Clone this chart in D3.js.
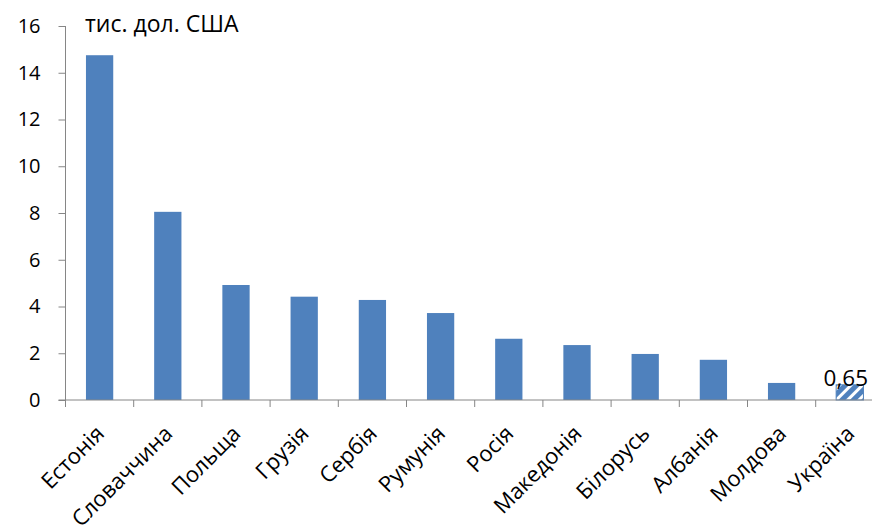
<!DOCTYPE html>
<html>
<head>
<meta charset="utf-8">
<script src="https://cdn.jsdelivr.net/npm/d3@7"></script>
<style>
  body { margin: 0; background: #fff; }
  svg { display: block; font-family: "Open Sans", sans-serif; }
</style>
</head>
<body>
<svg id="chart" width="872" height="529"></svg>
<script>
// Data
const countries = ["Естонія", "Словаччина", "Польща", "Грузія", "Сербія", "Румунія",
                   "Росія", "Македонія", "Білорусь", "Албанія", "Молдова", "Україна"];
const values = [14.75, 8.05, 4.92, 4.42, 4.28, 3.72, 2.62, 2.35, 1.97, 1.72, 0.73, 0.65];
const yTicks = [0, 2, 4, 6, 8, 10, 12, 14, 16];
const unitLabel = "тис. дол. США";
const highlight = "Україна";

const svg = d3.select("#chart");
const margin = { left: 65.5, top: 26, bottom: 129 };
const height = 529 - margin.top - margin.bottom;
const bandWidth = 68.2;
const plotWidth = bandWidth * countries.length;

const axisColor = "#868686";
const barColor = "#4F81BD";

// Hatch pattern for the highlighted bar
const defs = svg.append("defs");
const pat = defs.append("pattern")
    .attr("id", "hatch")
    .attr("patternUnits", "userSpaceOnUse")
    .attr("width", 8)
    .attr("height", 8)
    .attr("patternTransform", "rotate(45)");
pat.append("rect").attr("width", 8).attr("height", 8).attr("fill", barColor);
pat.append("rect").attr("x", 0).attr("width", 3).attr("height", 8).attr("fill", "#fff");

const g = svg.append("g").attr("transform", `translate(${margin.left},${margin.top})`);

const x = d3.scaleBand()
    .domain(countries)
    .range([0, plotWidth])
    .paddingInner(0.6)
    .paddingOuter(0.3);

const y = d3.scaleLinear()
    .domain([0, 16])
    .range([height, 0]);

// Bars
g.selectAll(".bar")
    .data(countries.map((c, i) => ({ c, v: values[i] })))
    .enter()
    .append("rect")
    .attr("class", "bar")
    .attr("x", d => x(d.c))
    .attr("y", d => y(d.v))
    .attr("width", x.bandwidth())
    .attr("height", d => y(0) - y(d.v))
    .attr("fill", d => d.c === highlight ? "url(#hatch)" : barColor)
    .attr("stroke", d => d.c === highlight ? barColor : "none")
    .attr("stroke-width", 1);

// Y axis
g.append("g")
    .call(d3.axisLeft(y).tickValues(yTicks).tickSize(7).tickPadding(18))
    .call(a => a.select(".domain").attr("stroke", axisColor).attr("d", `M0,${y(16)}V${y(0)}`))
    .call(a => a.selectAll("line").attr("stroke", axisColor))
    .call(a => a.selectAll("text").attr("fill", "#000").attr("font-size", 20)
        .attr("font-family", "'Open Sans', sans-serif"));

// X axis: ticks at category boundaries
const xAxis = g.append("g").attr("transform", `translate(0,${height})`);
xAxis.append("line")
    .attr("x1", -7).attr("x2", plotWidth)
    .attr("stroke", axisColor);
xAxis.selectAll(".xtick")
    .data(d3.range(countries.length))
    .enter()
    .append("line")
    .attr("x1", i => i * x.step())
    .attr("x2", i => i * x.step())
    .attr("y1", 0).attr("y2", 7)
    .attr("stroke", axisColor);

xAxis.selectAll(".xlabel")
    .data(countries)
    .enter()
    .append("text")
    .attr("transform", d => `translate(${x(d) + x.bandwidth() / 2 + 6},${35}) rotate(-45)`)
    .attr("text-anchor", "end")
    .attr("font-size", 22)
    .attr("fill", "#000")
    .text(d => d);

// Value label on highlighted bar
const hv = values[countries.indexOf(highlight)];
g.append("text")
    .attr("x", x(highlight) + x.bandwidth() / 2 - 4)
    .attr("y", y(hv) + 1)
    .attr("text-anchor", "middle")
    .attr("font-size", 22.5)
    .attr("fill", "#000")
    .text(String(hv).replace(".", ","));

// Unit label
svg.append("text")
    .attr("x", 85)
    .attr("y", 32)
    .attr("font-size", 23)
    .attr("fill", "#000")
    .text(unitLabel);
</script>
</body>
</html>
